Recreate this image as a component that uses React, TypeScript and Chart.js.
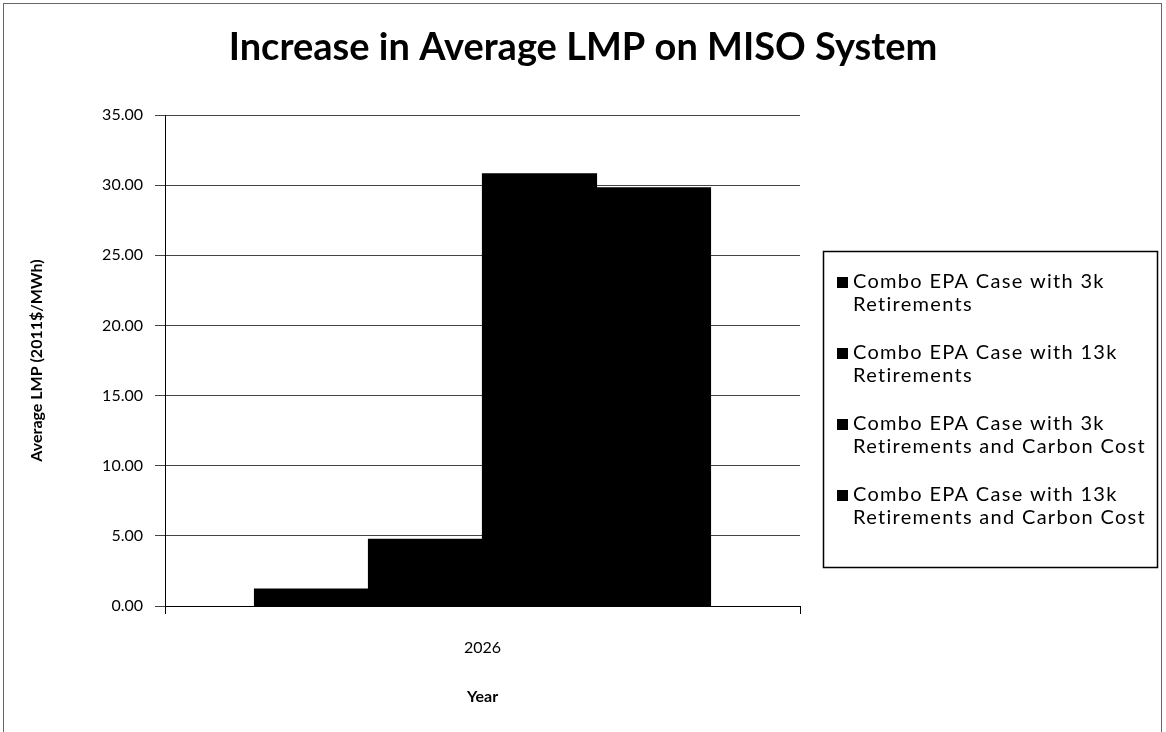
import React, { useEffect, useRef } from "react";
import { Chart, registerables } from "chart.js";

Chart.register(...registerables);

const TITLE = "Increase in Average LMP on MISO System";
const Y_TITLE = "Average LMP (2011$/MWh)";
const X_TITLE = "Year";
const CATEGORIES = ["2026"];
const SERIES_NAMES: string[][] = [
  ["Combo EPA Case with 3k", "Retirements"],
  ["Combo EPA Case with 13k", "Retirements"],
  ["Combo EPA Case with 3k", "Retirements and Carbon Cost"],
  ["Combo EPA Case with 13k", "Retirements and Carbon Cost"],
];
const SERIES_3K = [1.2];
const SERIES_13K = [4.75];
const SERIES_3K_CARBON = [30.8];
const SERIES_13K_CARBON = [29.8];
const SERIES_COLORS = ["#000000", "#000000", "#000000", "#000000"];
const Y_MIN = 0;
const Y_MAX = 35;
const Y_STEP = 5;

const FONT = "Lato, 'Open Sans', 'DejaVu Sans', sans-serif";

const decorPlugin = {
  id: "decor",
  beforeDraw(chart: any) {
    const ctx = chart.ctx;
    ctx.save();
    ctx.fillStyle = "#ffffff";
    ctx.fillRect(0, 0, chart.width, chart.height);
    ctx.restore();
  },
  afterDraw(chart: any) {
    const ctx = chart.ctx;
    const area = chart.chartArea;
    ctx.save();
    // outer border
    ctx.strokeStyle = "#666666";
    ctx.lineWidth = 1;
    ctx.strokeRect(3.5, 3.5, chart.width - 8, chart.height + 20);
    // title
    ctx.fillStyle = "#000000";
    ctx.font = `bold 38px ${FONT}`;
    ctx.textAlign = "center";
    ctx.textBaseline = "middle";
    ctx.fillText(TITLE, chart.width / 2, 48);
    // legend
    const boxLeft = area.right + 23;
    const boxTop = 251;
    const boxW = 334;
    const boxH = 316;
    ctx.strokeStyle = "#000000";
    ctx.lineWidth = 1.5;
    ctx.strokeRect(boxLeft + 0.5, boxTop + 0.5, boxW, boxH);
    ctx.font = `20px ${FONT}`;
    (ctx as any).letterSpacing = "1.3px";
    ctx.textAlign = "left";
    ctx.textBaseline = "middle";
    const datasets = chart.data.datasets;
    for (let i = 0; i < datasets.length; i++) {
      const y0 = boxTop + 31 + i * 71;
      ctx.fillStyle = datasets[i].backgroundColor;
      ctx.fillRect(boxLeft + 14, y0 - 5, 11, 11);
      ctx.fillStyle = "#000000";
      const lines = datasets[i].legendLines as string[];
      lines.forEach((ln: string, j: number) => {
        ctx.fillText(ln, boxLeft + 30, y0 + j * 23);
      });
    }
    (ctx as any).letterSpacing = "0px";
    ctx.restore();
  },
};

export default function App() {
  const ref = useRef<HTMLCanvasElement | null>(null);
  useEffect(() => {
    if (!ref.current) return;
    const values = [SERIES_3K, SERIES_13K, SERIES_3K_CARBON, SERIES_13K_CARBON];
    const chart = new Chart(ref.current, {
      type: "bar",
      data: {
        labels: CATEGORIES,
        datasets: values.map((v, i) => ({
          label: SERIES_NAMES[i].join(" "),
          legendLines: SERIES_NAMES[i],
          data: v,
          backgroundColor: SERIES_COLORS[i],
          borderWidth: 0,
          inflateAmount: 0.6,
          barPercentage: 1,
          categoryPercentage: 0.718,
        })) as any,
      },
      options: {
        animation: false,
        responsive: false,
        layout: { padding: { top: 115, right: 366, left: 0, bottom: 0 } },
        plugins: {
          legend: { display: false },
          title: { display: false },
          tooltip: { enabled: false },
        },
        scales: {
          x: {
            afterFit: (s: any) => {
              s.height = 126;
            },
            grid: {
              display: true,
              drawOnChartArea: false,
              tickLength: 8,
              color: "#000000",
            },
            border: { display: true, color: "#000000", width: 1 },
            ticks: { color: "#000000", font: { family: FONT, size: 16 }, padding: 24 },
            title: {
              display: true,
              text: X_TITLE,
              color: "#000000",
              font: { family: FONT, size: 16, weight: "bold" },
              padding: { top: 0, bottom: 26 },
            },
          },
          y: {
            min: Y_MIN,
            max: Y_MAX,
            afterFit: (s: any) => {
              s.width = 165;
            },
            grid: { color: "#444444", lineWidth: 1, tickLength: 10 },
            border: { display: true, color: "#000000", width: 1 },
            ticks: {
              stepSize: Y_STEP,
              color: "#000000",
              font: { family: FONT, size: 16 },
              padding: 12,
              callback: (v: any) => Number(v).toFixed(2),
            },
            title: {
              display: true,
              text: Y_TITLE,
              color: "#000000",
              font: { family: FONT, size: 16, weight: "bold" },
              padding: { top: 27, bottom: 0 },
            },
          },
        },
      },
      plugins: [decorPlugin],
    });
    return () => chart.destroy();
  }, []);
  return (
    <div style={{ position: "fixed", left: 0, top: 0, width: 1166, height: 732, background: "#fff" }}>
      <canvas ref={ref} width={1166} height={732} style={{ width: 1166, height: 732, display: "block" }} />
    </div>
  );
}
